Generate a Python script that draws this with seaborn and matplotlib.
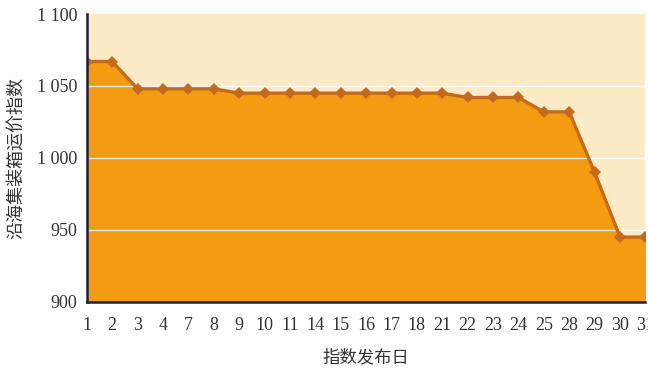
import matplotlib
matplotlib.use("Agg")
import matplotlib.pyplot as plt
import seaborn as sns
import pandas as pd
import numpy as np

days = ["1", "2", "3", "4", "7", "8", "9", "10", "11", "14", "15", "16", "17", "18",
        "21", "22", "23", "24", "25", "28", "29", "30", "31"]
index_values = [1067, 1067, 1048, 1048, 1048, 1048, 1045, 1045, 1045, 1045, 1045, 1045,
                1045, 1045, 1045, 1042, 1042, 1042, 1032, 1032, 990, 945, 945]
y_ticks = [900, 950, 1000, 1050, 1100]
y_tick_labels = ["900", "950", "1 000", "1 050", "1 100"]
x_label = "指数发布日"
y_label = "沿海集装箱运价指数"

sns.set_theme(style="white")
plt.rcParams["font.family"] = ["Liberation Serif", "Noto Sans CJK SC", "DejaVu Sans"]

df = pd.DataFrame({"pos": np.arange(len(days)), "day": days, "value": index_values})

fig = plt.figure(figsize=(6.48, 3.69), dpi=100)
ax = fig.add_axes([0.134, 0.182, 0.862, 0.780])
ax.set_facecolor("#FCEBC6")

ax.fill_between(df["pos"], 900, df["value"], color="#F39C12", zorder=1, linewidth=0)
for yv in [950, 1000, 1050]:
    ax.axhline(yv, color="white", linewidth=0.9, alpha=0.9, zorder=2)
sns.lineplot(data=df, x="pos", y="value", ax=ax, color="#C46A1E", linewidth=2.4,
             marker="D", markersize=6.5, markeredgewidth=0, zorder=3)

ax.set_xlim(0, len(days) - 1)
ax.set_ylim(900, 1100)
ax.set_xticks(df["pos"])
ax.set_xticklabels(days)
ax.set_yticks(y_ticks)
ax.set_yticklabels(y_tick_labels)
ax.tick_params(axis="both", labelsize=13, colors="#222222", direction="in",
               length=5, width=1.4, pad=7)
ax.tick_params(axis="x", pad=11)
for lab in ax.get_xticklabels() + ax.get_yticklabels():
    lab.set_color("#333333")

for s in ["top", "right"]:
    ax.spines[s].set_visible(False)
for s in ["left", "bottom"]:
    ax.spines[s].set_color("#1E1E30")
    ax.spines[s].set_linewidth(1.8)
    ax.spines[s].set_zorder(4)

ax.set_xlabel(x_label, fontsize=12.5, family=["Noto Sans CJK SC"], color="#333333", labelpad=10)
ax.set_ylabel(y_label, fontsize=13, family=["Noto Sans CJK SC"], color="#333333", labelpad=8)

fig.savefig("out.png", dpi=100)
